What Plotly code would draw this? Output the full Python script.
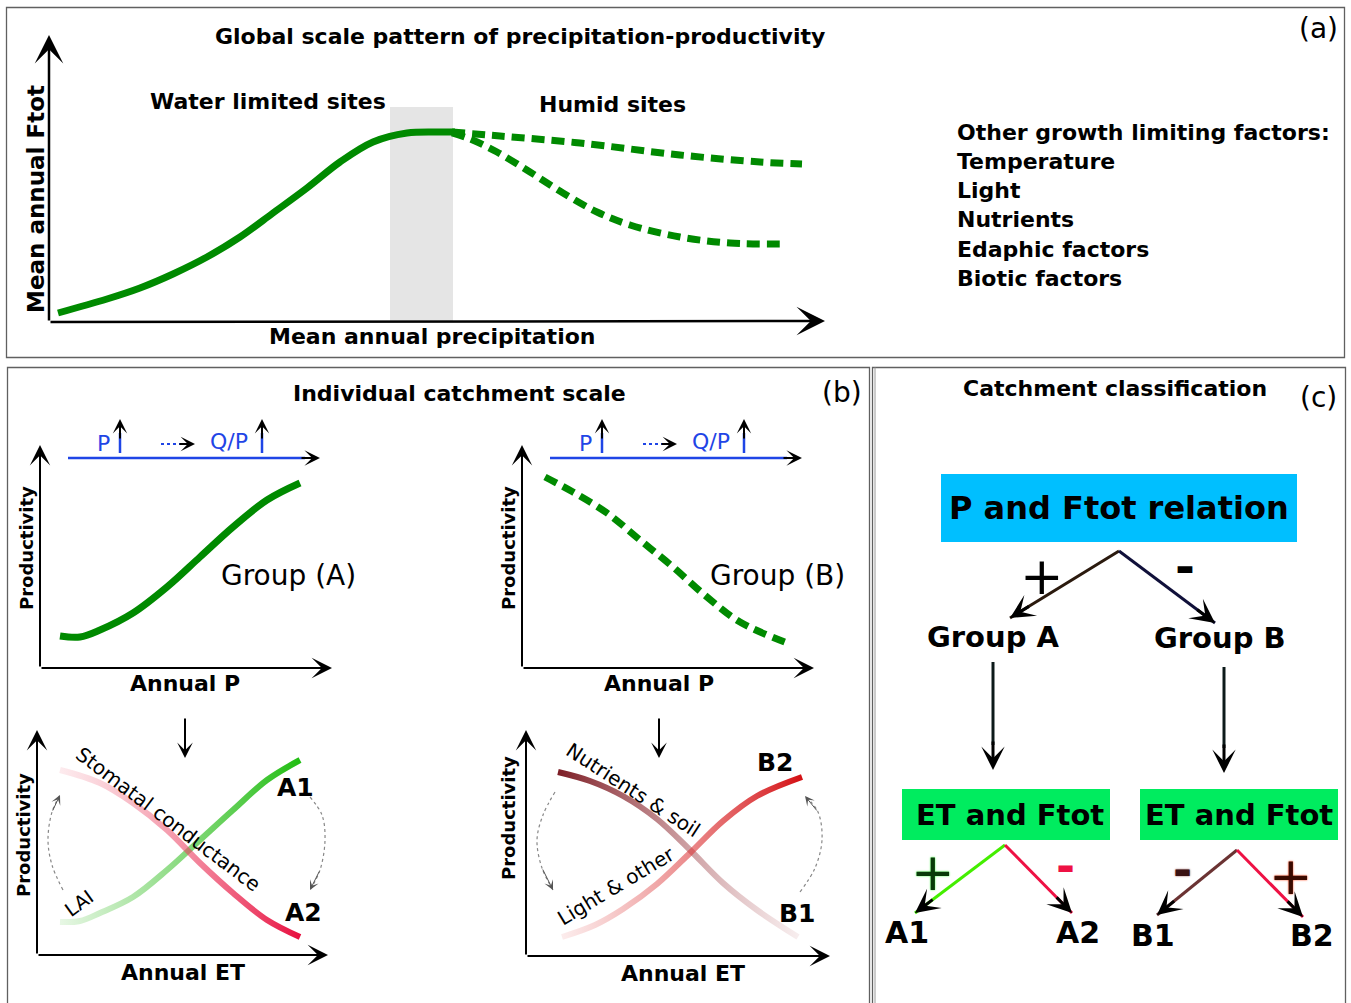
import json
import plotly.graph_objects as go

W, H = 1351, 1003
FONT = "DejaVu Sans"
GREEN = "#008a00"
BLUE = "#1f45e6"

# ---------------- panel (a): global precipitation-productivity pattern ----------------
A_SOLID_X = [58, 107, 140, 173, 207, 240, 273, 307, 340, 373, 407, 440, 455]
A_SOLID_Y = [313, 299, 288, 274, 257, 237, 213, 188, 162, 142, 133, 132, 132]
A_HUMID_HI_X = [452, 500, 580, 680, 760, 802]
A_HUMID_HI_Y = [132, 136, 143, 155, 162, 164]
A_HUMID_LO_X = [452, 470, 497, 530, 563, 597, 630, 680, 730, 787]
A_HUMID_LO_Y = [133, 139, 152, 172, 193, 212, 225, 237, 243, 244]
A_BAND_X = [390, 453]
A_BAND_Y = [107, 321]
A_FACTORS = ["Other growth limiting factors:", "Temperature", "Light", "Nutrients",
             "Edaphic factors", "Biotic factors"]
A_FACTORS_Y = [132, 161, 190, 219, 249, 278]

# ---------------- panel (b): individual catchment ----------------
B_GA_X = [60, 80, 100, 133, 167, 200, 233, 267, 300]
B_GA_Y = [636, 637, 630, 613, 587, 557, 527, 500, 483]
B_GB_X = [545, 573, 607, 640, 673, 707, 740, 787]
B_GB_Y = [477, 492, 513, 540, 567, 597, 622, 643]

B_A1_X = [60, 80, 100, 133, 167, 200, 233, 267, 300]
B_A1_Y = [922, 921, 913, 897, 870, 840, 810, 780, 760]
B_A2_X = [60, 100, 133, 167, 200, 233, 267, 300]
B_A2_Y = [770, 783, 803, 830, 863, 893, 920, 937]
B_B1_X = [558, 590, 623, 657, 690, 723, 757, 798]
B_B1_Y = [772, 781, 796, 819, 850, 883, 910, 937]
B_B2_X = [562, 595, 623, 657, 690, 723, 757, 802]
B_B2_Y = [937, 925, 909, 884, 853, 821, 796, 777]

# gradient end colours (start rgba, end rgba) for the four ET curves
B_GRADIENTS = {
    "gradA1": ("rgba(60,190,40,0.12)", "rgba(34,190,20,1)"),
    "gradA2": ("rgba(240,120,140,0.15)", "rgba(232,16,64,1)"),
    "gradB1": ("rgba(125,30,38,1)", "rgba(190,110,115,0.12)"),
    "gradB2": ("rgba(230,100,100,0.12)", "rgba(212,16,20,1)"),
}

# dotted feedback arrows (x list, y list)
B_LOOPS = [
    ([63, 52, 48, 52, 60], [890, 865, 840, 812, 795]),
    ([310, 322, 325, 320, 310], [797, 815, 840, 870, 890]),
    ([555, 543, 537, 542, 553], [792, 815, 840, 868, 890]),
    ([800, 815, 822, 818, 805], [892, 868, 840, 812, 796]),
]

# ---------------- panel (c): classification tree ----------------
C_EDGES = [  # apex x, apex y, tip x, tip y, colour
    (1119, 551, 1010, 618, "#2b1a0e"),
    (1119, 551, 1215, 623, "#10103a"),
    (1005, 845, 915, 913, "#44ee00"),
    (1005, 845, 1072, 913, "#ee1144"),
    (1237, 850, 1157, 915, "#6b3333"),
    (1237, 850, 1303, 917, "#ee1144"),
]

fig = go.Figure()


def line(x, y, color, width, dash=None, shape="spline", uid=None):
    fig.add_trace(go.Scatter(x=x, y=y, mode="lines", hoverinfo="skip", showlegend=False,
                             uid=uid,
                             line=dict(color=color, width=width, dash=dash, shape=shape)))


def arrow(x0, y0, x1, y1, color="black", width=2, size=1.2, head=3):
    fig.add_annotation(x=x1, y=y1, ax=x0, ay=y0, xref="x", yref="y", axref="x", ayref="y",
                       text="", showarrow=True, arrowhead=head, arrowsize=size,
                       arrowwidth=width, arrowcolor=color, standoff=0)


def text(x, y, s, size, bold=False, color="black", angle=0, xanchor="center", shadow=None):
    f = dict(family=FONT, size=size, color=color)
    if shadow:
        f["shadow"] = shadow
    fig.add_annotation(x=x, y=y, xref="x", yref="y", text=f"<b>{s}</b>" if bold else s,
                       showarrow=False, font=f, textangle=angle, xanchor=xanchor,
                       yanchor="middle")


# frames
FRAMES = [(6.5, 7.5, 1344.5, 357.5), (7.5, 367.5, 869.5, 1010), (872.5, 367.5, 1345.5, 1010)]
for x0, y0, x1, y1 in FRAMES:
    fig.add_shape(type="rect", x0=x0, y0=y0, x1=x1, y1=y1,
                  xref="x", yref="y", line=dict(color="#606060", width=1.3))
fig.add_shape(type="line", x0=875, y0=367.5, x1=875, y1=1010, xref="x", yref="y",
              line=dict(color="#9a9a9a", width=1))

# ---- panel (a)
fig.add_shape(type="rect", x0=A_BAND_X[0], x1=A_BAND_X[1], y0=A_BAND_Y[0], y1=A_BAND_Y[1],
              xref="x", yref="y", fillcolor="#e5e5e5", line=dict(width=0), layer="below")
line(A_SOLID_X, A_SOLID_Y, GREEN, 7)
line(A_HUMID_HI_X, A_HUMID_HI_Y, GREEN, 7, dash="13px,7px")
line(A_HUMID_LO_X, A_HUMID_LO_Y, GREEN, 7, dash="13px,7px")
arrow(49, 322, 49, 35, width=2.5, size=1.9)
arrow(49, 322, 825, 321, width=2.5, size=1.9)
text(520, 36, "Global scale pattern of precipitation-productivity", 22, bold=True)
text(1318, 28, "(a)", 28)
text(268, 101, "Water limited sites", 22, bold=True)
text(612, 104, "Humid sites", 22, bold=True)
text(432, 336, "Mean annual precipitation", 22, bold=True)
text(36, 199, "Mean annual Ftot", 23, bold=True, angle=-90)
for s, yy in zip(A_FACTORS, A_FACTORS_Y):
    text(955, yy, s, 22, bold=True, xanchor="left")

# ---- panel (b)
text(459, 393, "Individual catchment scale", 22, bold=True)
text(842, 392, "(b)", 28)
for ox in (0, 482):
    arrow(40 + ox, 668, 40 + ox, 445, width=2, size=1.7)
    arrow(40 + ox, 668, 332 + ox, 668, width=2, size=1.7)
    text(26 + ox, 548, "Productivity", 18, bold=True, angle=-90)
    text(185 + ox - (8 if ox else 0), 683, "Annual P", 22, bold=True)
    line([68 + ox, 305 + ox], [458, 458], BLUE, 2.5, shape="linear")
    arrow(300 + ox, 458, 320 + ox, 458, width=2, size=1.3)
    text(103 + ox, 443, "P", 22, color=BLUE)
    text(229 + ox, 441, "Q/P", 22, color=BLUE)
    for ux in (120, 262):
        line([ux + ox, ux + ox], [453, 433], BLUE, 2.5, shape="linear")
        arrow(ux + ox, 440, ux + ox, 419, width=2, size=1.2)
    line([161 + ox, 183 + ox], [444, 444], BLUE, 2, dash="dot", shape="linear")
    arrow(178 + ox, 444, 195 + ox, 444, width=2, size=1.2)
    arrow(185 + ox - (8 if ox else 0), 717, 185 + ox - (8 if ox else 0), 758, width=2, size=1.3)

line(B_GA_X, B_GA_Y, GREEN, 7)
line(B_GB_X, B_GB_Y, GREEN, 7, dash="13px,7px")
text(288, 575, "Group (A)", 28)
text(777, 575, "Group (B)", 28)

arrow(37, 955, 37, 730, width=2, size=1.7)
arrow(37, 955, 328, 955, width=2, size=1.7)
arrow(526, 956, 526, 730, width=2, size=1.7)
arrow(526, 956, 830, 956, width=2, size=1.7)
text(23, 835, "Productivity", 18, bold=True, angle=-90)
text(508, 818, "Productivity", 18, bold=True, angle=-90)
text(183, 972, "Annual ET", 22, bold=True)
text(683, 973, "Annual ET", 22, bold=True)

line(B_A1_X, B_A1_Y, "rgba(60,190,40,0.6)", 6, uid="gradA1")
line(B_A2_X, B_A2_Y, "rgba(232,60,100,0.6)", 6, uid="gradA2")
line(B_B1_X, B_B1_Y, "rgba(150,60,70,0.6)", 6, uid="gradB1")
line(B_B2_X, B_B2_Y, "rgba(220,60,60,0.6)", 6, uid="gradB2")

for (lx, ly) in B_LOOPS:
    line(lx, ly, "#888888", 1.2, dash="dot")
    arrow(lx[-2], ly[-2], lx[-1], ly[-1], color="#555555", width=1, size=1.6)

text(168, 819, "Stomatal conductance", 20, angle=37)
text(79, 903, "LAI", 19, angle=-36)
text(633, 790, "Nutrients &amp; soil", 20, angle=33)
text(616, 886, "Light &amp; other", 20, angle=-31)
text(295, 787, "A1", 25, bold=True)
text(303, 912, "A2", 25, bold=True)
text(775, 762, "B2", 25, bold=True)
text(797, 913, "B1", 25, bold=True)

# ---- panel (c)
text(1115, 388, "Catchment classification", 22, bold=True)
text(1318, 397, "(c)", 28)
BOXES = [(941, 474, 1297, 542, "#00bfff", "P and Ftot relation", 32),
         (902, 789, 1110, 840, "#00ec5f", "ET and Ftot", 29),
         (1140, 789, 1338, 840, "#00ec5f", "ET and Ftot", 29)]
for x0, y0, x1, y1, col, s, fs in BOXES:
    fig.add_shape(type="rect", x0=x0, y0=y0, x1=x1, y1=y1, xref="x", yref="y",
                  fillcolor=col, line=dict(width=0), layer="below")
    text((x0 + x1) / 2 + (4 if fs == 29 and x0 < 1000 else 0), (y0 + y1) / 2, s, fs, bold=True)

for ax_, ay_, tx, ty, col in C_EDGES:
    line([ax_, tx], [ay_, ty], col, 3, shape="linear")
    dx, dy = tx - ax_, ty - ay_
    L = (dx * dx + dy * dy) ** 0.5
    arrow(tx - dx / L * 24, ty - dy / L * 24, tx, ty, width=3, size=1.35)

text(993, 637, "Group A", 29, bold=True)
text(1220, 638, "Group B", 29, bold=True)
line([993, 993], [662, 745], "#0d1a1a", 3, shape="linear")
arrow(993, 740, 993, 770, width=3, size=1.3)
line([1224, 1224], [667, 748], "#0d1a1a", 3, shape="linear")
arrow(1224, 743, 1224, 773, width=3, size=1.3)

text(1042, 576, "+", 52)
text(1185, 566, "-", 48, bold=True)
text(933, 872, "+", 52, color="#0a3a0a", shadow="0px 0px 2px #33ff33")
text(1065, 866, "-", 46, bold=True, color="#ee1144")
text(1182, 870, "-", 46, bold=True, color="#3a1212", shadow="0px 0px 2px #8a4444")
text(1291, 876, "+", 52, color="#3a0a00", shadow="0px 0px 2px #ff3300")
text(907, 932, "A1", 30, bold=True)
text(1078, 932, "A2", 30, bold=True)
text(1153, 935, "B1", 30, bold=True)
text(1312, 935, "B2", 30, bold=True)

fig.update_layout(width=W, height=H, margin=dict(l=0, r=0, t=0, b=0),
                  plot_bgcolor="white", paper_bgcolor="white", showlegend=False,
                  xaxis=dict(range=[0, W], visible=False, fixedrange=True),
                  yaxis=dict(range=[H, 0], visible=False, fixedrange=True))

# colour the four ET curves with a gradient along their length (styling only)
GRAD_JS = """
document.body.style.margin='0';
var gd = document.getElementById('{plot_id}');
var grads = GRADS_JSON;
var ns = 'http://www.w3.org/2000/svg';
var svg = gd.querySelector('svg.main-svg');
var defs = svg.querySelector('defs');
if (!defs) { defs = document.createElementNS(ns, 'defs'); svg.insertBefore(defs, svg.firstChild); }
Object.keys(grads).forEach(function (uid) {
  var lg = document.createElementNS(ns, 'linearGradient');
  lg.setAttribute('id', 'lg_' + uid);
  lg.setAttribute('x1', '0'); lg.setAttribute('y1', '0');
  lg.setAttribute('x2', '1'); lg.setAttribute('y2', '0');
  grads[uid].forEach(function (c, i) {
    var st = document.createElementNS(ns, 'stop');
    st.setAttribute('offset', i === 0 ? '0' : '1');
    st.setAttribute('stop-color', c);
    lg.appendChild(st);
  });
  defs.appendChild(lg);
  var p = gd.querySelector('.trace' + uid + ' path.js-line');
  if (p) { p.style.stroke = 'url(#lg_' + uid + ')'; p.style.strokeOpacity = '1'; }
});
""".replace("GRADS_JSON", json.dumps({k: list(v) for k, v in B_GRADIENTS.items()}))

fig.write_html("out.html", post_script=GRAD_JS, config={"displayModeBar": False})
